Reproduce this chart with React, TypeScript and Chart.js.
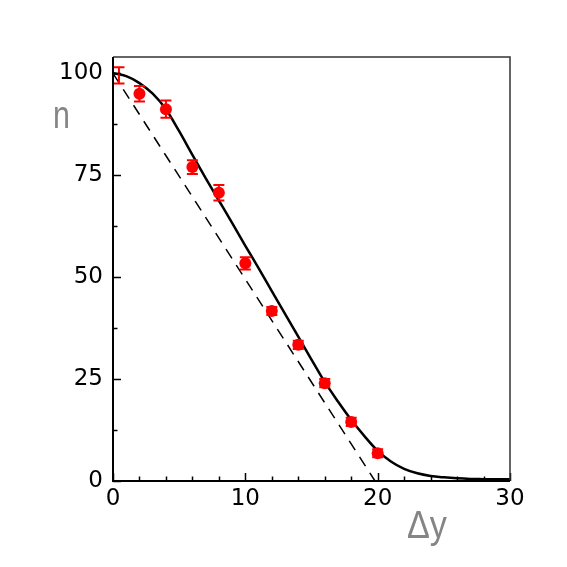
import React, { useEffect, useRef } from "react";
import { Chart, registerables } from "chart.js";

Chart.register(...registerables);

// measured points with errors
const dataX = [0.45, 2, 4, 6, 8, 10, 12, 14, 16, 18, 20];
const dataY = [99.5, 95.0, 91.2, 77.0, 70.7, 53.4, 41.7, 33.4, 24.0, 14.5, 6.8];
const dataErr = [2.0, 1.9, 2.1, 1.7, 1.9, 1.5, 1.0, 1.0, 1.0, 1.0, 1.0];
const dataRadius = [0, 6, 6, 6, 6, 6, 6, 6, 6, 6, 6];

// solid curve
const curveX = [0, 1, 2, 3, 4, 5, 6, 7, 8, 9, 10, 11, 12, 13, 14, 15, 16, 17, 18, 19, 20, 21, 22, 23, 24, 25, 26, 27, 28, 29, 30];
const curveY = [100, 99.3, 97.6, 95.0, 91.2, 85.8, 80.0, 74.3, 68.8, 63.3, 57.7, 52.2, 46.6, 41.0, 35.4, 29.8, 24.3, 19.5, 15.0, 11.0, 7.4, 4.8, 3.0, 1.9, 1.25, 0.9, 0.65, 0.5, 0.45, 0.4, 0.4];

// dashed line
const dashX = [0, 19.8];
const dashY = [100, 0];

// axes
const xMajorTicks = [0, 10, 20, 30];
const xMinorTicks = [2, 4, 6, 8, 12, 14, 16, 18, 22, 24, 26, 28];
const yMajorTicks = [0, 25, 50, 75, 100];
const yMinorTicks = [12.5, 37.5, 62.5, 87.5];
const xTitle = "Δy";
const yTitle = "n";

const framePlugin = {
  id: "framePlugin",
  afterDatasetsDraw(chart: any) {
    const ctx = chart.ctx;
    const xs = chart.scales.x;
    const ys = chart.scales.y;
    ctx.save();
    ctx.strokeStyle = "#ff0000";
    ctx.lineWidth = 2;
    dataX.forEach((x, i) => {
      const px = xs.getPixelForValue(x);
      const pTop = ys.getPixelForValue(dataY[i] + dataErr[i]);
      const pBot = ys.getPixelForValue(dataY[i] - dataErr[i]);
      ctx.beginPath();
      ctx.moveTo(px, pTop);
      ctx.lineTo(px, pBot);
      ctx.moveTo(px - 5.5, pTop);
      ctx.lineTo(px + 5.5, pTop);
      ctx.moveTo(px - 5.5, pBot);
      ctx.lineTo(px + 5.5, pBot);
      ctx.stroke();
    });
    ctx.restore();
  },
  afterDraw(chart: any) {
    const ctx = chart.ctx;
    const a = chart.chartArea;
    const xs = chart.scales.x;
    const ys = chart.scales.y;
    ctx.save();
    // ticks inside
    ctx.strokeStyle = "#000";
    ctx.lineWidth = 1.5;
    ctx.beginPath();
    yMajorTicks.forEach((v) => {
      const p = Math.round(ys.getPixelForValue(v)) + 0.5;
      ctx.moveTo(a.left, p);
      ctx.lineTo(a.left + 8, p);
    });
    yMinorTicks.forEach((v) => {
      const p = Math.round(ys.getPixelForValue(v)) + 0.5;
      ctx.moveTo(a.left, p);
      ctx.lineTo(a.left + 4.5, p);
    });
    xMajorTicks.forEach((v) => {
      const p = Math.round(xs.getPixelForValue(v)) + 0.5;
      ctx.moveTo(p, a.bottom);
      ctx.lineTo(p, a.bottom - 8);
    });
    xMinorTicks.forEach((v) => {
      const p = Math.round(xs.getPixelForValue(v)) + 0.5;
      ctx.moveTo(p, a.bottom);
      ctx.lineTo(p, a.bottom - 4.5);
    });
    ctx.stroke();
    // frame
    ctx.strokeStyle = "#333";
    ctx.lineWidth = 1.5;
    ctx.beginPath();
    ctx.moveTo(a.left, a.top);
    ctx.lineTo(a.right, a.top);
    ctx.lineTo(a.right, a.bottom);
    ctx.stroke();
    ctx.strokeStyle = "#000";
    ctx.lineWidth = 2;
    ctx.beginPath();
    ctx.moveTo(a.left, a.top);
    ctx.lineTo(a.left, a.bottom);
    ctx.lineTo(a.right, a.bottom);
    ctx.stroke();
    // titles
    ctx.fillStyle = "#858585";
    ctx.font = "38px 'Liberation Sans'";
    ctx.textBaseline = "alphabetic";
    ctx.textAlign = "left";
    ctx.save();
    ctx.translate(53, 128);
    ctx.scale(0.8, 1);
    ctx.fillText(yTitle, 0, 0);
    ctx.restore();
    ctx.save();
    ctx.translate(407, 538);
    ctx.scale(0.9, 1);
    ctx.fillText(xTitle, 0, 0);
    ctx.restore();
    ctx.restore();
  },
};

export default function App() {
  const ref = useRef<HTMLCanvasElement | null>(null);
  useEffect(() => {
    if (!ref.current) return;
    const chart = new Chart(ref.current, {
      type: "scatter",
      data: {
        datasets: [
          {
            label: "curve",
            data: curveX.map((x, i) => ({ x, y: curveY[i] })),
            showLine: true,
            borderColor: "#000",
            borderWidth: 2.5,
            pointRadius: 0,
            cubicInterpolationMode: "monotone",
            order: 3,
          },
          {
            label: "dashed",
            data: dashX.map((x, i) => ({ x, y: dashY[i] })),
            showLine: true,
            borderColor: "#000",
            borderWidth: 1.5,
            borderDash: [11, 8],
            pointRadius: 0,
            order: 2,
          },
          {
            label: "data",
            data: dataX.map((x, i) => ({ x, y: dataY[i] })),
            backgroundColor: "#ff0000",
            borderColor: "#ff0000",
            borderWidth: 0,
            pointRadius: dataRadius,
            order: 1,
          },
        ],
      },
      options: {
        responsive: false,
        animation: false,
        layout: { padding: { left: 0, top: 57, right: 57, bottom: 0 } },
        plugins: {
          legend: { display: false },
          tooltip: { enabled: false },
          title: { display: false },
        },
        scales: {
          x: {
            type: "linear",
            min: 0,
            max: 30,
            grid: { display: false, drawTicks: false },
            border: { display: false },
            afterBuildTicks: (s: any) => {
              s.ticks = xMajorTicks.map((v) => ({ value: v }));
            },
            afterFit: (s: any) => {
              s.height = 86;
            },
            ticks: {
              padding: 4,
              color: "#000",
              maxRotation: 0,
              font: { family: "'DejaVu Sans'", size: 23 },
            },
          },
          y: {
            type: "linear",
            min: 0,
            max: 104,
            grid: { display: false, drawTicks: false },
            border: { display: false },
            afterBuildTicks: (s: any) => {
              s.ticks = yMajorTicks.map((v) => ({ value: v }));
            },
            afterFit: (s: any) => {
              s.width = 113;
            },
            ticks: {
              padding: 10,
              color: "#000",
              font: { family: "'DejaVu Sans'", size: 23 },
            },
          },
        },
      },
      plugins: [framePlugin],
    } as any);
    return () => chart.destroy();
  }, []);
  return (
    <div style={{ position: "fixed", left: 0, top: 0, width: 567, height: 567, background: "#fff" }}>
      <canvas ref={ref} width={567} height={567} style={{ display: "block" }} />
    </div>
  );
}
